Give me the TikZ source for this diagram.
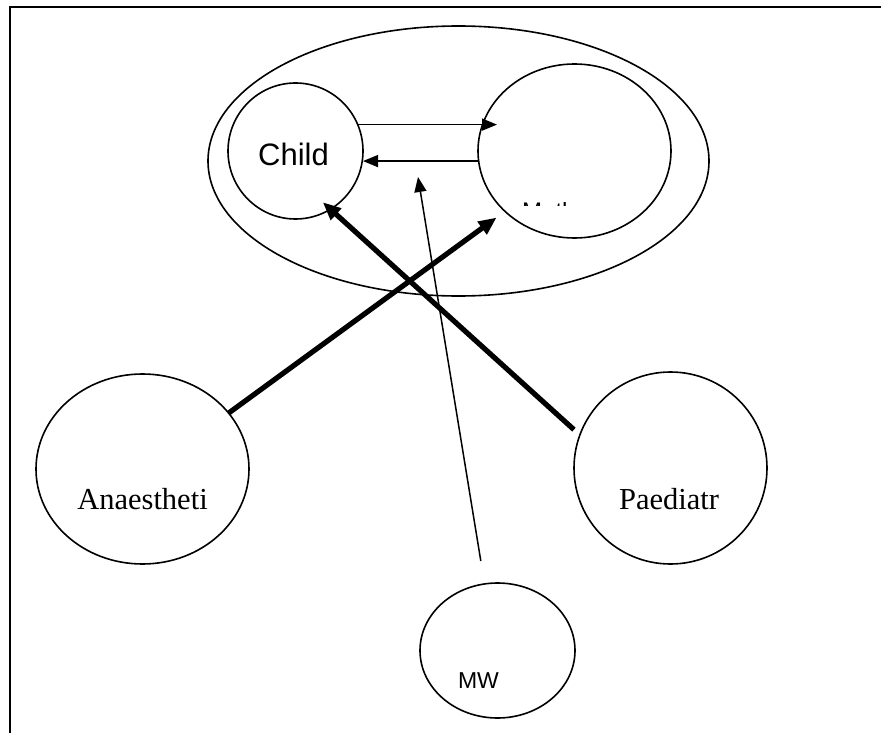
\documentclass[tikz,border=0pt]{standalone}
\usepackage{fontspec}
\setmainfont{Liberation Serif}
\setsansfont{Liberation Sans}
\usetikzlibrary{shapes.geometric,arrows.meta}
\newcommand{\thinW}{1.5pt}
\newcommand{\thickW}{5.2pt}
\newcommand{\ringW}{1.6pt}

\begin{document}
\begin{tikzpicture}[x=1pt,y=-1pt,
    blob/.style={draw,ellipse,line width=\ringW,inner sep=0pt,outer sep=0pt},
    thinarrow/.style={-{Triangle[length=15pt,width=12pt]},line width=\thinW},
    thickarrow/.style={-{Triangle[length=18pt,width=15pt]},line width=\thickW},
    sanslbl/.style={font=\sffamily\fontsize{31}{31}\selectfont,anchor=base,inner sep=0pt},
    seriflbl/.style={font=\fontsize{30.5}{30.5}\selectfont,anchor=base,inner sep=0pt}]

        \useasboundingbox (0,0) rectangle (881,733);

        % Frame (only top and left edges show)
        \draw[line width=2.4pt] (10,733) -- (10,7.3) -- (881,7.3);

        % Family ring with child and mother
        \node[blob,minimum width=501pt,minimum height=270pt] (family) at (458.5,161) {};
        \node[blob,minimum width=135pt,minimum height=136pt] (child) at (295.5,151) {};
        \node[blob,minimum width=193pt,minimum height=174pt] (mother) at (574.5,151) {};

        % Carers
        \node[blob,minimum width=213pt,minimum height=190pt] (anaest) at (142.5,469) {};
        \node[blob,minimum width=193pt,minimum height=192pt] (paed) at (670.5,468) {};
        \node[blob,minimum width=155pt,minimum height=135pt] (mw) at (497.5,650.5) {};

        % Labels
        \node[sanslbl] (childtxt) at ([xshift=-2pt,yshift=-15pt]child.center) {Child};
        \node[seriflbl] (anaesttxt) at ([yshift=-40pt]anaest.center) {Anaestheti};
        \node[seriflbl] (paedtxt) at ([xshift=-1.5pt,yshift=-41pt]paed.center) {Paediatr};
        \node[sanslbl,font=\sffamily\fontsize{23}{23}\selectfont] (mwtxt) at ([xshift=-19pt,yshift=-37.5pt]mw.center) {MW};
        \begin{scope}
            \clip (500,202) rectangle (600,205.5);
            \node[sanslbl,font=\sffamily\fontsize{24}{24}\selectfont,anchor=base west] (mothertxt) at (522,219.7) {Mother};
        \end{scope}

        % Child <-> mother
        \draw[thinarrow,shorten >=-19pt] (child.23) -- (mother.west |- child.23);
        \draw[thinarrow] (mother.186.5) -- (mother.186.5 -| child.east);

        % Midwife arrow into the gap
        \coordinate (gap) at (418,177);
        \draw[thinarrow,shorten <=23.3pt] (mw.101.7) -- (gap);

        % Thick crossing arrows
        \draw[thickarrow,shorten >=10.5pt] (anaest.33.8) -- (mother.221.3);
        \draw[thickarrow,shorten <=8pt,shorten >=-10.3pt] (paed.160.8) -- (child.-59);
    \end{tikzpicture}
\end{document}
